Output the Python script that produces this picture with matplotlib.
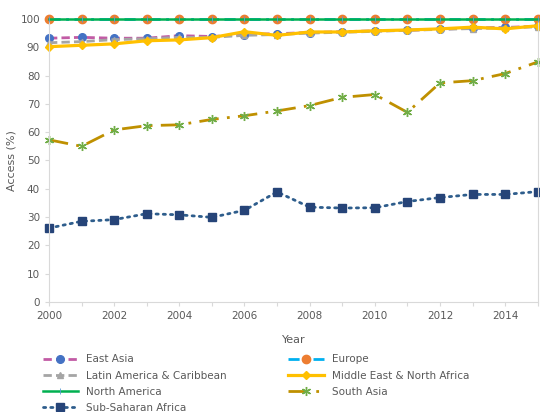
import matplotlib.pyplot as plt

# data
years = list(range(2000, 2016))
east_asia = [93.2, 93.5, 93.2, 93.2, 94.1, 93.8, 94.5, 94.8, 95.2, 95.5, 95.8, 96.0, 96.4, 96.8, 97.0, 97.4]
europe = [100] * 16
latin_america = [91.6, 92.0, 92.7, 93.0, 93.5, 93.5, 94.2, 94.5, 95.0, 95.3, 95.6, 96.0, 96.3, 96.6, 96.9, 97.2]
mena = [90.2, 90.7, 91.2, 92.3, 92.6, 93.4, 95.5, 94.2, 95.4, 95.4, 95.8, 96.1, 96.5, 97.1, 96.5, 97.6]
north_america = [100] * 16
south_asia = [57.3, 55.0, 60.8, 62.3, 62.6, 64.5, 65.8, 67.5, 69.4, 72.3, 73.3, 67.0, 77.4, 78.2, 80.7, 84.8]
ssa = [26.1, 28.5, 29.1, 31.2, 30.8, 29.9, 32.4, 38.9, 33.5, 33.2, 33.3, 35.5, 36.9, 38.0, 38.0, 39.0]

grey_txt = '#595959'
plt.rcParams['font.family'] = 'DejaVu Sans'

fig = plt.figure(figsize=(5.4, 4.12), dpi=100)
ax = fig.add_axes([0.0907, 0.267, 0.905, 0.687])

h_ea, = ax.plot(years, east_asia, color='#C25BA5', linestyle=(0, (3, 1.5)), lw=2,
                marker='o', ms=5.5, mfc='#4472C4', mec='#4472C4', label='East Asia', clip_on=False)
h_eu, = ax.plot(years, europe, color='#00B0F0', linestyle=(0, (4, 2, 1, 2)), lw=2,
                marker='o', ms=6, mfc='#ED7D31', mec='#ED7D31', label='Europe', clip_on=False, zorder=2)
h_la, = ax.plot(years, latin_america, color='#A5A5A5', linestyle=(0, (3, 1.5)), lw=2,
                marker='^', ms=5, mfc='#A5A5A5', mec='#A5A5A5', label='Latin America & Caribbean', clip_on=False)
h_me, = ax.plot(years, mena, color='#FFC000', linestyle='-', lw=2.3,
                marker='D', ms=4, mfc='#FFC000', mec='#FFC000', label='Middle East & North Africa', clip_on=False)
h_na, = ax.plot(years, north_america, color='#00B050', linestyle='-', lw=1.8,
                marker='|', ms=4, mec='#5B9BD5', mew=0.6, label='North America', clip_on=False, zorder=3)
h_sa, = ax.plot(years, south_asia, color='#BF9000', linestyle=(0, (7, 3, 1, 3)), lw=2,
                marker=(6, 2, 0), ms=6.5, mec='#70AD47', mew=1, label='South Asia', clip_on=False)
h_ss, = ax.plot(years, ssa, color='#2E5D8C', linestyle=(0, (0.8, 1.8)), dash_capstyle='round', lw=2,
                marker='s', ms=6, mfc='#264478', mec='#264478', label='Sub-Saharan Africa', clip_on=False)

ax.set_xlim(2000, 2015)
ax.set_ylim(0, 100)
ax.set_xticks(years)
ax.set_xticklabels([str(y) if y % 2 == 0 else '' for y in years])
ax.set_yticks(range(0, 101, 10))
ax.tick_params(axis='both', colors='#D9D9D9', labelcolor=grey_txt, labelsize=7.5,
               length=3, width=0.8)
ax.spines['top'].set_visible(False)
for side in ['left', 'bottom', 'right']:
    ax.spines[side].set_color('#D9D9D9')

ax.set_xlabel('Year', fontsize=8, color=grey_txt, labelpad=10)
ax.set_ylabel('Access (%)', fontsize=8, color=grey_txt, labelpad=3)

# legend filled row by row like the original
order = [h_ea, h_la, h_na, h_ss, h_eu, h_me, h_sa]
fig.legend(handles=order, labels=[h.get_label() for h in order],
           loc='upper left', bbox_to_anchor=(0.079, 0.14), ncol=2, frameon=False,
           fontsize=7.5, labelcolor=grey_txt, handlelength=3.4, numpoints=1,
           labelspacing=0.6, columnspacing=5.9, borderaxespad=0, borderpad=0)

fig.savefig('out.png', dpi=100)
